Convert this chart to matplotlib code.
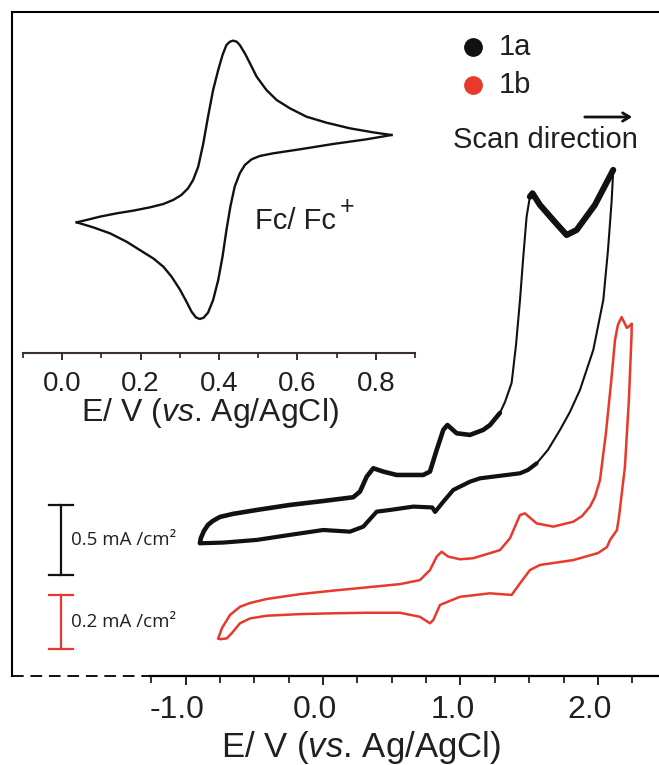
import numpy as np
import matplotlib
matplotlib.use('Agg')
import matplotlib.pyplot as plt
from matplotlib.ticker import FixedLocator
from matplotlib.transforms import ScaledTranslation

plt.rcParams['font.family'] = ['Liberation Sans', 'DejaVu Sans']
plt.rcParams['mathtext.fontset'] = 'custom'
plt.rcParams['mathtext.rm'] = 'Liberation Sans'
plt.rcParams['mathtext.it'] = 'Liberation Sans:italic'
plt.rcParams['axes.unicode_minus'] = False

# ---------------- data ----------------
# Main CVs: potential E (V vs Ag/AgCl), current density j (mA/cm^2, relative)
e1a_fwd = [-0.895, -0.888, -0.866, -0.837, -0.801, -0.750, -0.655, -0.482, -0.240, 0.002,
           0.220, 0.269, 0.318, 0.366, 0.439, 0.536, 0.729, 0.778, 0.827, 0.875,
           0.905, 0.972, 1.069, 1.166, 1.215, 1.287, 1.324, 1.372, 1.404, 1.433,
           1.455, 1.481, 1.505, 1.524, 1.578, 1.687, 1.772, 1.845, 1.978, 2.111]
j1a_fwd = [0.121, 0.157, 0.207, 0.250, 0.279, 0.307, 0.329, 0.357, 0.393, 0.421,
           0.448, 0.488, 0.595, 0.655, 0.631, 0.607, 0.607, 0.631, 0.786, 0.929,
           0.964, 0.905, 0.893, 0.929, 0.964, 1.050, 1.129, 1.264, 1.536, 1.857,
           2.143, 2.452, 2.595, 2.619, 2.536, 2.414, 2.321, 2.357, 2.536, 2.786]
e1a_rev = [2.111, 2.100, 2.073, 2.039, 1.966, 1.869, 1.796, 1.724, 1.636, 1.554,
           1.491, 1.433, 1.142, 1.069, 0.948, 0.875, 0.827, 0.815, 0.795, 0.657,
           0.487, 0.391, 0.293, 0.196, 0.002, -0.240, -0.482, -0.725, -0.895]
j1a_rev = [2.786, 2.571, 2.214, 1.857, 1.500, 1.214, 1.057, 0.929, 0.786, 0.690,
           0.643, 0.619, 0.583, 0.559, 0.500, 0.416, 0.357, 0.343, 0.375, 0.381,
           0.357, 0.345, 0.238, 0.202, 0.214, 0.179, 0.143, 0.124, 0.119]

e1b_fwd = [-0.761, -0.756, -0.735, -0.676, -0.604, -0.531, -0.409, -0.167, 0.075, 0.318,
           0.560, 0.705, 0.778, 0.827, 0.863, 0.911, 0.996, 1.093, 1.287, 1.360,
           1.433, 1.469, 1.554, 1.675, 1.820, 1.884, 1.942, 1.978, 2.015, 2.058,
           2.095, 2.124, 2.145, 2.172, 2.211, 2.245]
j1b_fwd = [0.006, 0.015, 0.044, 0.093, 0.123, 0.137, 0.152, 0.170, 0.183, 0.195,
           0.207, 0.222, 0.259, 0.309, 0.327, 0.309, 0.299, 0.303, 0.333, 0.377,
           0.463, 0.469, 0.432, 0.420, 0.438, 0.459, 0.494, 0.530, 0.593, 0.767,
           0.952, 1.111, 1.167, 1.196, 1.156, 1.170]
e1b_rev = [2.245, 2.245, 2.225, 2.196, 2.153, 2.138, 2.087, 2.065, 2.000, 1.820,
           1.578, 1.505, 1.433, 1.372, 1.215, 0.996, 0.851, 0.802, 0.778, 0.705,
           0.560, 0.318, 0.075, -0.167, -0.409, -0.531, -0.604, -0.664, -0.700,
           -0.749, -0.761]
j1b_rev = [1.170, 1.137, 0.889, 0.641, 0.456, 0.407, 0.370, 0.344, 0.322, 0.296,
           0.278, 0.259, 0.210, 0.167, 0.173, 0.160, 0.130, 0.074, 0.062, 0.086,
           0.101, 0.101, 0.099, 0.096, 0.090, 0.080, 0.062, 0.025, 0.006,
           0.003, 0.006]

# Inset ferrocene CV (arbitrary current units)
e_fc_fwd = [0.037, 0.062, 0.096, 0.139, 0.181, 0.224, 0.258, 0.283, 0.304, 0.321,
            0.334, 0.347, 0.360, 0.372, 0.385, 0.398, 0.409, 0.419, 0.428, 0.436,
            0.445, 0.453, 0.466, 0.479, 0.496, 0.521, 0.547, 0.581, 0.623, 0.674,
            0.734, 0.793, 0.840]
i_fc_fwd = [0.00, 0.07, 0.17, 0.27, 0.35, 0.45, 0.55, 0.67, 0.82, 1.02,
            1.27, 1.67, 2.37, 3.17, 3.97, 4.57, 5.02, 5.32, 5.42, 5.45,
            5.42, 5.32, 5.07, 4.77, 4.37, 3.97, 3.67, 3.42, 3.17, 2.99,
            2.82, 2.70, 2.62]
e_fc_rev = [0.840, 0.776, 0.691, 0.606, 0.538, 0.504, 0.483, 0.466, 0.453, 0.440,
            0.429, 0.419, 0.409, 0.398, 0.385, 0.372, 0.361, 0.351, 0.341, 0.330,
            0.317, 0.300, 0.279, 0.258, 0.232, 0.198, 0.164, 0.122, 0.079, 0.037]
i_fc_rev = [2.62, 2.49, 2.35, 2.19, 2.07, 1.99, 1.89, 1.72, 1.47, 1.07,
            0.47, -0.23, -1.03, -1.73, -2.33, -2.71, -2.86, -2.90, -2.85, -2.68,
            -2.38, -2.01, -1.63, -1.33, -1.08, -0.83, -0.58, -0.33, -0.15, 0.00]

main_major = [-1.0, 0.0, 1.0, 2.0]
main_major_labels = ['-1.0', '0.0', '1.0', '2.0']
inset_major = [0.0, 0.2, 0.4, 0.6, 0.8]
inset_major_labels = ['0.0', '0.2', '0.4', '0.6', '0.8']
series_names = ['1a', '1b']
scalebar_values = [0.5, 0.2]  # mA/cm^2
scalebar_labels = ['0.5 mA /cm\u00b2', '0.2 mA /cm\u00b2']

# ---------------- style ----------------
BLACK = '#111111'
RED = '#e8392c'
TXT = '#231f20'
W, H = 659, 765
off_1a = 0.829
scale_1b = 270 / 140
off_1b = 0.257

fig = plt.figure(figsize=(W / 100, H / 100), dpi=100)


def fx(px):
    return px / W


def fy(py):
    return 1 - py / H


ax = fig.add_axes([fx(12), fy(676), fx(659) - fx(12), fy(12) - fy(676)])
ax.set_xlim(-2.262, 2.444)
ax.set_ylim(0, 4.743)
ax.spines['right'].set_visible(False)
ax.spines['top'].set_linewidth(1.5)
ax.spines['left'].set_linewidth(1.5)
ax.spines['bottom'].set_linewidth(1.6)
ax.spines['bottom'].set_bounds(-1.26, 2.444)
ax.plot([-2.262, -1.26], [0, 0], color=BLACK, lw=1.4, dashes=(6, 3.5),
        clip_on=False, solid_capstyle='butt')
ax.yaxis.set_visible(False)
ax.xaxis.set_major_locator(FixedLocator(main_major))
ax.set_xticklabels(main_major_labels)
ax.xaxis.set_minor_locator(FixedLocator(list(np.arange(-1.25, 2.26, 0.25))))
ax.tick_params(axis='x', which='major', direction='out', length=6.5, width=1.4,
               labelsize=23, pad=7, colors=TXT)
ax.tick_params(axis='x', which='minor', direction='out', length=5, width=1.3, colors=TXT)
shift = ScaledTranslation(-0.08, 0, fig.dpi_scale_trans)
for lab in ax.get_xticklabels():
    lab.set_transform(lab.get_transform() + shift)

# 1a (black)
x_f = np.array(e1a_fwd)
y_f = np.array(j1a_fwd) + off_1a
x_r = np.array(e1a_rev)
y_r = np.array(j1a_rev) + off_1a
ax.plot(x_f, y_f, color=BLACK, lw=1.5)
ax.plot(x_r, y_r, color=BLACK, lw=1.5)
m1 = x_f <= 1.29
ax.plot(x_f[m1], y_f[m1], color=BLACK, lw=3.3, solid_capstyle='round',
        solid_joinstyle='round')
m2 = x_f >= 1.505
ax.plot(x_f[m2], y_f[m2], color=BLACK, lw=4.4, solid_capstyle='round',
        solid_joinstyle='round')
m3 = x_r <= 1.56
ax.plot(x_r[m3], y_r[m3], color=BLACK, lw=3.0, solid_capstyle='round',
        solid_joinstyle='round')

# 1b (red)
ax.plot(np.array(e1b_fwd), np.array(j1b_fwd) * scale_1b + off_1b, color=RED, lw=1.8,
        solid_joinstyle='round')
ax.plot(np.array(e1b_rev), np.array(j1b_rev) * scale_1b + off_1b, color=RED, lw=1.8,
        solid_joinstyle='round')

# scale bars
bar_x = -1.905
cap_half = 0.09
for val, col, base, sc, lab in [
        (scalebar_values[0], BLACK, 0.721, 1.0, scalebar_labels[0]),
        (scalebar_values[1], RED, 0.193, scale_1b, scalebar_labels[1])]:
    top = base + val * sc
    ax.plot([bar_x, bar_x], [base, top], color=col, lw=1.6)
    ax.plot([bar_x - cap_half, bar_x + cap_half], [base, base], color=col, lw=1.6)
    ax.plot([bar_x - cap_half, bar_x + cap_half], [top, top], color=col, lw=1.6)
    ax.text(bar_x + 0.07, (base + top) / 2, lab, fontsize=13.5, family='Open Sans',
            color=TXT, ha='left', va='center')

# main x label
fig.text(fx(361), fy(747), r'E/ V ($\mathit{vs}$. Ag/AgCl)', fontsize=25,
         ha='center', va='center', color=TXT)

# legend
for name, col, py in [(series_names[0], BLACK, 47), (series_names[1], RED, 85)]:
    fig.lines.append(plt.Line2D([fx(473)], [fy(py)], marker='o', ms=12.5,
                                color=col, transform=fig.transFigure))
    fig.text(fx(499), fy(py), name, fontsize=21, ha='left', va='center', color=TXT)
fig.text(fx(453), fy(140), 'Scan direction', fontsize=21, ha='left', va='center', color=TXT)
fig.patches.append(matplotlib.patches.FancyArrowPatch(
    (fx(582), fy(117)), (fx(635), fy(117)), transform=fig.transFigure,
    arrowstyle='->,head_length=5,head_width=3', lw=2, color=BLACK))

# inset
axi = fig.add_axes([fx(23), fy(353), fx(415) - fx(23), fy(30) - fy(353)])
axi.patch.set_alpha(0)
axi.set_xlim(-0.1, 0.9)
axi.set_ylim(-3.92, 5.77)
for s in ['top', 'right', 'left']:
    axi.spines[s].set_visible(False)
axi.spines['bottom'].set_linewidth(1.5)
axi.spines['bottom'].set_color('#3a2f2a')
axi.yaxis.set_visible(False)
axi.xaxis.set_major_locator(FixedLocator(inset_major))
axi.set_xticklabels(inset_major_labels)
axi.xaxis.set_minor_locator(FixedLocator(list(np.arange(-0.1, 0.91, 0.1))))
axi.tick_params(axis='x', which='major', direction='out', length=5, width=1.3,
                labelsize=20, pad=8, colors=TXT)
axi.tick_params(axis='x', which='minor', direction='out', length=3.5, width=1.2, colors=TXT)
axi.plot(e_fc_fwd, i_fc_fwd, color=BLACK, lw=1.7, solid_joinstyle='round')
axi.plot(e_fc_rev, i_fc_rev, color=BLACK, lw=1.7, solid_joinstyle='round')
fig.text(fx(255), fy(221), 'Fc/ Fc', fontsize=21, ha='left', va='center', color=TXT)
fig.text(fx(347), fy(207), '+', fontsize=18, ha='center', va='center', color=TXT)
fig.text(fx(210), fy(413), r'E/ V ($\mathit{vs}$. Ag/AgCl)', fontsize=23,
         ha='center', va='center', color=TXT)

fig.savefig('out.png', dpi=100)
